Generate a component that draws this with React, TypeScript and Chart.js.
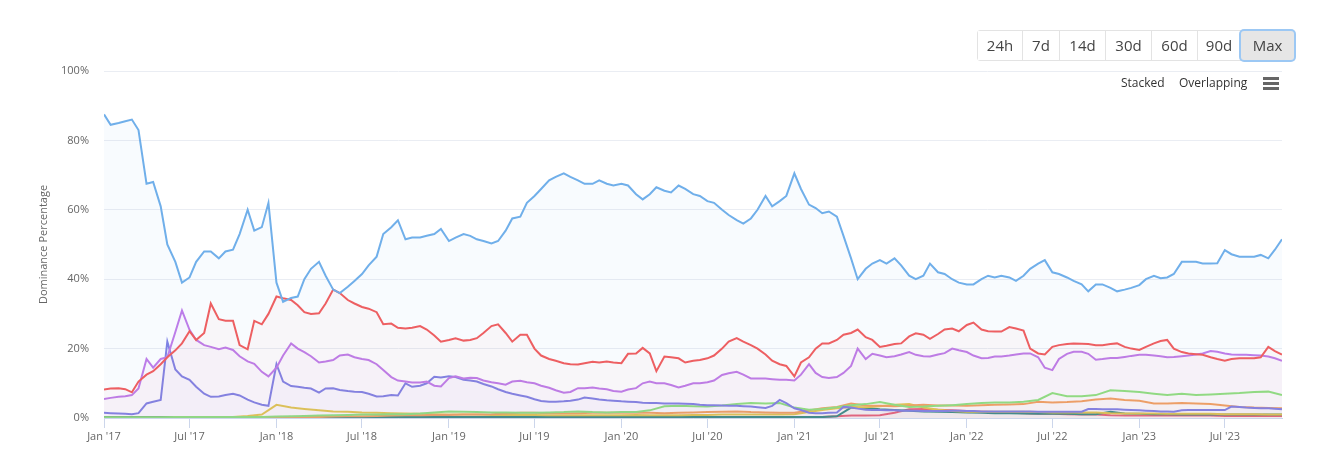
import React, { useEffect, useRef } from "react";
import { Chart, registerables } from "chart.js";

Chart.register(...registerables);

// ---------- x categories (dates) ----------
const pad2 = (n: number) => (n < 10 ? "0" + n : "" + n);
function buildGrid(half: boolean): string[] {
  const out: string[] = [];
  for (let y = 2017; y <= 2023; y++) {
    for (let m = 1; m <= 12; m++) {
      if (y === 2023 && m > 10) break;
      out.push(`${y}-${pad2(m)}-01`);
      if (half) out.push(`${y}-${pad2(m)}-15`);
    }
  }
  out.push("2023-10-30");
  return out;
}
const halfMonthDates = buildGrid(true); // 165 points
const monthDates = buildGrid(false); // 83 points

const xTickDates = [
  "2017-01-01", "2017-07-01", "2018-01-01", "2018-07-01", "2019-01-01", "2019-07-01",
  "2020-01-01", "2020-07-01", "2021-01-01", "2021-07-01", "2022-01-01", "2022-07-01",
  "2023-01-01", "2023-07-01",
];
const xTickLabels = [
  "Jan '17", "Jul '17", "Jan '18", "Jul '18", "Jan '19", "Jul '19",
  "Jan '20", "Jul '20", "Jan '21", "Jul '21", "Jan '22", "Jul '22",
  "Jan '23", "Jul '23",
];
const yTickValues = [0, 20, 40, 60, 80, 100];
const rangeButtons = ["24h", "7d", "14d", "30d", "60d", "90d", "Max"];

// ---------- series (semi-monthly) ----------
const blueSeries = [
  87.5, 84.5, 85, 85.5, 86, 83, 67.5, 68, 61, 50, 45, 39, 40.5, 45, 48, 48, 46, 48, 48.5, 53, 60, 54, 55, 62,
  39, 33.5, 34.6, 35, 40, 43, 45, 41, 37, 36, 37.8, 39.5, 41.5, 44, 46.5, 53, 55, 57, 51.5, 52, 52, 52.5, 53, 54.5,
  51, 52, 53, 52.5, 51.5, 51, 50.3, 51, 54, 57.5, 58, 62, 64, 66, 68.5, 69.5, 70.5, 69.5, 68.5, 67.5, 67.5, 68.5, 67.5, 67,
  67.5, 67, 64.5, 63, 64.5, 66.5, 65.5, 65, 67, 66, 64.5, 64, 62.5, 62, 60, 58.5, 57, 56, 57.5, 60, 64, 61, 62.5, 64,
  70.5, 66, 61.5, 60.5, 59, 59.5, 58, 52.5, 46, 40, 43, 44.5, 45.5, 44.5, 46, 44, 41, 40, 41, 44.5, 42, 41.5, 40, 39,
  38.5, 38.5, 40, 41, 40.5, 41, 40.5, 39.5, 41, 43, 44.5, 45.5, 42, 41.5, 40.5, 39.5, 38.5, 36.5, 38.5, 38.5, 37.5, 36.5, 37, 37.5,
  38.3, 40, 41, 40.3, 40.5, 41.5, 45, 45, 45, 44.5, 44.5, 44.6, 48.4, 47.2, 46.5, 46.5, 46.5, 47, 46, 48.5, 51.5,
];
const redSeries = [
  8.2, 8.5, 8.6, 8.3, 7.4, 10.5, 12.5, 13.5, 15.5, 17.5, 19.5, 21.5, 25, 22.5, 24.5, 33, 28.5, 28, 28, 21, 19.8, 28, 27, 30,
  35, 34.5, 34, 32.5, 30.5, 30, 30.2, 33, 37, 36, 34, 33, 32, 31.5, 30.5, 27, 27.2, 26, 25.8, 26, 26.5, 25.5, 23.8, 22,
  22.5, 23, 22.3, 22.5, 23, 24.5, 26.5, 27, 24.5, 22, 24, 24, 20, 18, 17, 16.5, 15.8, 15.5, 15.4, 15.8, 16.2, 16, 16.3, 16,
  15.8, 18.5, 18.6, 20.2, 18.6, 13.5, 17.7, 17.5, 17.2, 16, 16.5, 16.7, 17.2, 18, 20, 22, 23, 22, 21, 20, 18.3, 16.5, 15.5, 15,
  12, 16, 17.5, 20, 21.5, 21.5, 22.5, 24, 24.5, 25.5, 23.3, 22.5, 20.5, 20.8, 21.3, 21.5, 23.5, 24.4, 24, 22.8, 24.2, 25.5, 25.8, 25,
  26.8, 27.5, 25.5, 25, 24.9, 24.9, 26.2, 25.8, 25.2, 20, 18.6, 18.3, 20.5, 21, 21.3, 21.5, 21.4, 21.3, 21, 21, 21.3, 21.5, 20.5, 20,
  19.6, 20.5, 21.5, 22.2, 22.5, 20, 19, 18.6, 18.4, 18.2, 17.5, 17, 16.5, 17, 17.2, 17.2, 17.2, 17.5, 20.5, 19.3, 18.3,
];
const violetSeries = [
  5.5, 5.8, 6.1, 6.3, 6.6, 8.5, 17, 14.5, 17, 17.5, 24.8, 31, 25.4, 22.5, 21, 20.5, 19.8, 20.3, 19.6, 17.8, 16.3, 15.6, 13.3, 12,
  14.5, 18, 21.5, 20, 19, 17.8, 16, 16.3, 16.7, 18, 18.3, 17.5, 17, 16.7, 15.5, 13.8, 11.8, 10.8, 10.5, 10.2, 10.2, 10.5, 9.3, 9.1,
  11.5, 12, 11.4, 11.6, 11.5, 10.8, 10.3, 10, 9.6, 10.5, 10.7, 10.3, 10, 9.3, 8.7, 8, 7.3, 7.5, 8.6, 8.6, 8.8, 8.5, 8.3, 7.8,
  7.6, 8.2, 8.6, 10, 10.5, 10, 10, 9.5, 8.8, 9.3, 10, 10, 10.3, 10.8, 12.4, 12.9, 13.3, 12.5, 11.4, 11.4, 11.4, 11.2, 11, 11,
  10.8, 12.5, 15.5, 13, 11.8, 11.5, 11.8, 13, 15, 20, 17, 18.5, 18, 17.5, 17.8, 18.3, 19, 18.2, 17.8, 17.7, 18.3, 18.7, 20, 19.5,
  19, 18, 17.2, 17.3, 17.7, 17.7, 18, 18.3, 18.6, 18.6, 17.5, 14.5, 13.8, 17, 18.5, 19.1, 19.1, 18.5, 16.8, 17, 17.3, 17.3, 17.6, 17.9,
  18.2, 18.2, 18, 17.8, 17.5, 17.6, 17.8, 18, 18.3, 18.6, 19.3, 19.1, 18.6, 18.3, 18.2, 18.2, 18.1, 18, 17.7, 17.2, 16.5,
];
const indigoSeries = [
  1.5, 1.4, 1.3, 1.2, 1.1, 1.4, 4.2, 4.7, 5.2, 22, 14, 12, 11, 9, 7, 6.1, 6.2, 6.6, 7, 6.5, 5.3, 4.5, 3.8, 3.5,
  15.5, 10.5, 9.2, 9, 8.7, 8.5, 7.3, 8.5, 8.6, 8.1, 7.8, 7.6, 7.5, 7, 6.2, 6.3, 6.6, 6.5, 10, 9, 9.3, 10, 11.9, 11.7,
  12, 11.8, 11, 10.8, 10.5, 9.8, 9.1, 8.3, 7.5, 7, 6.5, 6.1, 5.4, 4.9, 4.7, 4.7, 4.8, 5, 5.3, 5.9, 5.6, 5.3, 5.1, 5,
  4.8, 4.7, 4.6, 4.4, 4.3, 4.3, 4.2, 4.2, 4.2, 4.1, 4, 3.8, 3.7, 3.7, 3.6, 3.5, 3.5, 3.4, 3.3, 3.1, 2.9, 3.5, 5.2, 4.3,
  2.8, 2.3, 1.5, 1.4, 1.4, 1.5, 1.6, 3.2, 3, 2.7, 2.4, 2.3, 2.3, 2.2, 2.2, 2.1, 2.1, 2.1, 2, 2, 2, 2, 2.1, 2.1,
  2, 2, 1.9, 1.9, 1.9, 1.9, 1.9, 1.9, 1.9, 1.9, 1.8, 1.8, 1.8, 1.8, 1.8, 1.8, 1.8, 2.6, 2.6, 2.5, 2.5, 2.5, 2.4, 2.3,
  2.2, 2.1, 2, 1.9, 1.9, 1.8, 2.2, 2.3, 2.3, 2.3, 2.3, 2.3, 2.3, 3.3, 3.2, 3, 2.9, 2.8, 2.8, 2.7, 2.5,
];

// ---------- smaller series (monthly) ----------
const greenSeries = [
  0.2, 0.2, 0.2, 0.2, 0.2, 0.3, 0.3, 0.3, 0.3, 0.3, 0.3, 0.3,
  0.4, 0.5, 0.6, 0.7, 0.8, 0.9, 1.0, 1.0, 1.1, 1.1, 1.3, 1.6,
  1.9, 1.8, 1.7, 1.6, 1.6, 1.5, 1.5, 1.6, 1.7, 1.9, 1.7, 1.6,
  1.7, 1.7, 2.2, 3.4, 3.5, 3.4, 3.3, 3.6, 4.0, 4.3, 4.2, 4.3,
  3.0, 2.4, 2.6, 3.1, 3.7, 4.0, 4.6, 3.8, 3.2, 3.3, 3.5, 3.7,
  4.0, 4.3, 4.5, 4.5, 4.7, 5.2, 7.2, 6.3, 6.3, 6.6, 8.0, 7.8,
  7.5, 7.0, 6.6, 7.0, 6.6, 6.8, 7.0, 7.2, 7.5, 7.6, 6.6,
];
const orangeSeries = [
  0.1, 0.1, 0.1, 0.1, 0.1, 0.1, 0.1, 0.1, 0.1, 0.1, 0.1, 0.1,
  0.2, 0.2, 0.3, 0.3, 0.4, 0.5, 0.5, 0.6, 0.7, 0.8, 0.8, 0.9,
  0.9, 1.0, 1.0, 1.1, 1.3, 1.5, 1.5, 1.4, 1.4, 1.4, 1.5, 1.5,
  1.5, 1.6, 1.5, 1.4, 1.5, 1.6, 1.7, 1.8, 1.9, 1.7, 1.6, 1.5,
  1.5, 2.2, 2.8, 3.2, 4.2, 3.6, 3.5, 3.4, 3.6, 3.8, 3.6, 3.6,
  3.5, 3.7, 3.8, 3.9, 4.0, 4.7, 4.5, 4.6, 4.8, 5.3, 5.6, 5.2,
  5.0, 4.2, 4.2, 4.3, 4.2, 4.0, 3.6, 3.2, 3.0, 2.9, 2.8,
];
const yellowSeries = [
  null, null, null, null, null, null, null, null, null, 0.3, 0.6, 1.0,
  3.8, 3.0, 2.6, 2.2, 1.9, 1.8, 1.6, 1.5, 1.4, 1.3, 1.2, 1.1,
  1.0, 1.0, 1.0, 0.9, 0.9, 0.9, 0.9, 0.8, 0.8, 0.8, 0.8, 0.8,
  0.8, 0.9, 0.8, 0.8, 0.8, 0.9, 0.9, 1.0, 1.0, 1.0, 1.0, 1.0,
  1.1, 1.7, 2.3, 2.8, 3.2, 3.1, 3.4, 3.8, 4.0, 3.0, 2.4, 2.0,
  1.8, 1.8, 1.8, 1.8, 1.8, 1.7, 1.6, 1.6, 1.6, 1.6, 1.4, 1.3,
  1.3, 1.3, 1.2, 1.2, 1.2, 1.2, 1.1, 1.1, 1.1, 1.0, 1.0,
];
const tealSeries = [
  0.3, 0.3, 0.3, 0.3, 0.3, 0.3, 0.3, 0.3, 0.3, 0.3, 0.3, 0.3,
  0.3, 0.3, 0.3, 0.3, 0.3, 0.3, 0.3, 0.3, 0.3, 0.3, 0.3, 0.3,
  0.3, 0.3, 0.3, 0.3, 0.3, 0.3, 0.3, 0.3, 0.3, 0.3, 0.3, 0.3,
  0.3, 0.3, 0.3, 0.3, 0.3, 0.3, 0.3, 0.3, 0.3, 0.3, 0.3, 0.3,
  0.3, 0.3, 0.3, 0.5, 3.0, 2.9, 2.5, 2.3, 2.1, 1.9, 1.8, 1.7,
  1.6, 1.5, 1.4, 1.4, 1.3, 1.2, 1.2, 1.2, 1.1, 1.1, 1.8, 1.3,
  1.2, 1.1, 1.1, 1.0, 1.0, 1.0, 1.0, 1.0, 1.0, 1.0, 1.0,
];
const pinkSeries = [
  null, null, null, null, null, null, null, null, null, null, null, null,
  null, null, null, null, null, null, null, null, null, null, null, null,
  null, null, null, null, null, null, null, null, null, null, null, null,
  null, null, null, null, null, null, null, null, null, null, null, null,
  0.1, 0.2, 0.3, 0.5, 0.7, 0.7, 0.8, 1.5, 2.5, 2.6, 2.4, 2.2,
  2.0, 1.8, 1.7, 1.6, 1.4, 1.2, 1.2, 1.1, 1.0, 1.0, 0.8, 0.7,
  0.7, 0.7, 0.7, 0.7, 0.7, 0.7, 0.6, 0.6, 0.6, 0.6, 0.6,
];

const dayOf = (iso: string) => {
  const [y, m, d] = iso.split("-").map(Number);
  return (Date.UTC(y, m - 1, d) - Date.UTC(2017, 0, 1)) / 86400000;
};
const toPoints = (dates: string[], values: (number | null)[]) =>
  dates.map((d, i) => ({ x: dayOf(d), y: values[i] }));

const FONT = "'Open Sans', sans-serif";

export default function App() {
  const ref = useRef<HTMLCanvasElement | null>(null);

  useEffect(() => {
    if (!ref.current) return;
    const mk = (label: string, dates: string[], vals: (number | null)[], color: string, fillA: number) => {
      const hex = color.replace("#", "");
      const r = parseInt(hex.slice(0, 2), 16), g = parseInt(hex.slice(2, 4), 16), b = parseInt(hex.slice(4, 6), 16);
      return {
        label,
        data: toPoints(dates, vals),
        borderColor: color,
        backgroundColor: `rgba(${r},${g},${b},${fillA})`,
        borderWidth: 2,
        pointRadius: 0,
        tension: 0,
        fill: "origin",
        spanGaps: false,
      };
    };
    const tickDays = xTickDates.map(dayOf);
    const chart = new Chart(ref.current, {
      type: "line",
      data: {
        datasets: [
          mk("Blue", halfMonthDates, blueSeries, "#70afea", 0.05),
          mk("Red", halfMonthDates, redSeries, "#f45b5b", 0.03),
          mk("Violet", halfMonthDates, violetSeries, "#c07be9", 0.04),
          mk("Indigo", halfMonthDates, indigoSeries, "#7f80e4", 0.03),
          mk("Green", monthDates, greenSeries, "#8ee57b", 0.02),
          mk("Orange", monthDates, orangeSeries, "#f7a35c", 0.02),
          mk("Yellow", monthDates, yellowSeries, "#e6cb4a", 0.02),
          mk("Teal", monthDates, tealSeries, "#2b8c86", 0.02),
          mk("Pink", monthDates, pinkSeries, "#f15c78", 0.02),
        ] as any,
      },
      options: {
        animation: false,
        responsive: false,
        devicePixelRatio: 1,
        layout: { padding: { left: 0, right: 59, top: 71, bottom: 0 } },
        plugins: { legend: { display: false }, tooltip: { enabled: false } },
        scales: {
          x: {
            type: "linear",
            min: 0,
            max: dayOf("2023-10-30"),
            afterBuildTicks: (scale: any) => {
              scale.ticks = tickDays.map((v) => ({ value: v }));
            },
            afterFit: (scale: any) => {
              scale.height = 35;
            },
            ticks: {
              autoSkip: false,
              maxRotation: 0,
              padding: 2,
              color: "#666666",
              font: { family: FONT, size: 11 },
              callback: (_v: any, i: number) => xTickLabels[i],
            },
            grid: { drawOnChartArea: false, drawTicks: true, tickLength: 10, color: "#ccd6eb" },
            border: { display: true, color: "#ccd6eb", width: 1 },
          },
          y: {
            min: 0,
            max: 100,
            afterBuildTicks: (scale: any) => {
              scale.ticks = yTickValues.map((v) => ({ value: v }));
            },
            afterFit: (scale: any) => {
              scale.width = 104;
            },
            ticks: {
              padding: 15,
              color: "#666666",
              font: { family: FONT, size: 11 },
              callback: (v: any) => v + "%",
            },
            grid: { drawTicks: false, color: "#eaedf3", lineWidth: 1 },
            border: { display: false },
            title: {
              display: true,
              text: "Dominance Percentage",
              color: "#666666",
              font: { family: FONT, size: 11 },
              padding: { top: 37, bottom: 0 },
            },
          },
        },
      } as any,
    });
    return () => chart.destroy();
  }, []);

  const btnWidths = [45, 37, 46, 46, 46, 43, 53];

  return (
    <div style={{ position: "absolute", left: 0, top: 0, width: 1341, height: 453, background: "#fff", fontFamily: FONT }}>
      <canvas ref={ref} width={1341} height={453} style={{ display: "block" }} />
      <div
        style={{
          position: "absolute",
          left: 977,
          top: 30,
          height: 29,
          display: "flex",
          border: "1px solid #e3e3e3",
          borderRadius: 3,
          background: "#fff",
        }}
      >
        {rangeButtons.map((b, i) => {
          const active = b === "Max";
          return (
            <div
              key={b}
              style={{
                width: btnWidths[i] - (i < rangeButtons.length - 1 ? 1 : 0),
                height: 29,
                lineHeight: "29px",
                textAlign: "center",
                fontSize: 15,
                color: "#444",
                borderRight: i < rangeButtons.length - 1 ? "1px solid #e3e3e3" : "none",
                background: active ? "#e6e6e6" : "#fff",
                boxShadow: active ? "0 0 0 2px #9cc8f4" : "none",
                borderRadius: active ? 3 : 0,
                position: "relative",
              }}
            >
              {b}
            </div>
          );
        })}
      </div>
      <span style={{ position: "absolute", left: 1121, top: 74, fontSize: 12, color: "#333" }}>Stacked</span>
      <span style={{ position: "absolute", left: 1179, top: 74, fontSize: 12, color: "#333" }}>Overlapping</span>
      {[77, 82, 87].map((t) => (
        <div key={t} style={{ position: "absolute", left: 1263, top: t, width: 16, height: 3, background: "#666" }} />
      ))}
    </div>
  );
}
